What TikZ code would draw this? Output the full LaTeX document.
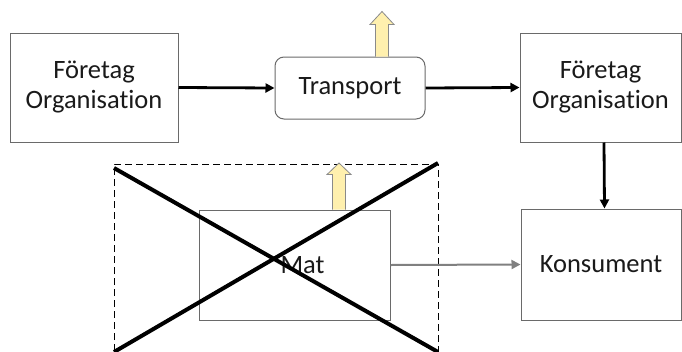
\documentclass[tikz,border=0pt]{standalone}
\usepackage{fontspec}
\setmainfont{Carlito}[Ligatures={NoCommon,NoRequired,NoContextual}]
\usetikzlibrary{arrows.meta,calc}
\definecolor{txt}{HTML}{1A1A1A}
\definecolor{boxline}{HTML}{6A6A6A}
\definecolor{yel}{HTML}{FFF0AE}
\definecolor{yelline}{HTML}{8A8A8A}
\definecolor{grayarrow}{HTML}{808080}
\tikzset{
  box/.style={draw=boxline, line width=1pt, fill=white, text=txt, align=center,
    inner sep=0pt, font=\fontsize{26.5}{30}\selectfont},
  flow/.style={line width=2.8pt, -{Triangle[length=9pt,width=9pt]}},
  grayflow/.style={draw=grayarrow, line width=2pt, -{Triangle[length=9pt,width=9pt,fill=grayarrow]}},
  cross/.style={line width=4pt, black},
  dashbox/.style={draw=black, line width=0.9pt, dash pattern=on 7pt off 4pt},
  yarrow/.style={fill=yel, draw=yelline, line width=0.8pt, line join=miter}
}
\begin{document}
\begin{tikzpicture}[x=1pt,y=-1pt]
\useasboundingbox (0,0) rectangle (682,351);
% nodes
\node[box, minimum width=168pt, minimum height=109pt] (lb) at (94,87.5) {Företag\\Organisation};
\node[box, rounded corners=9pt, minimum width=150pt, minimum height=62pt] (tr) at (350,88) {Transport};
\node[box, minimum width=161pt, minimum height=109pt] (rb) at (600.5,87.5) {Företag\\Organisation};
\node[box, minimum width=160pt, minimum height=111pt] (ko) at (601,264.5) {Konsument};
% dashed frame
\draw[dashbox] (114,362) -- (114,164) -- (438,164) -- (438,362);
\node[box, minimum width=191pt, minimum height=110pt] (mat) at (294.5,265) {\hspace*{16pt}Mat};
% connectors
\draw[flow] (lb.east) -- (tr.west);
\draw[flow] (tr.east) -- (rb.west);
\draw[flow] ([xshift=3.5pt]rb.south) -- ([xshift=3.5pt]ko.north);
\draw[grayflow] (mat.east) -- (ko.west);
% yellow arrows
\coordinate (ya) at (tr.north -| 382,0);
\draw[yarrow] ($(ya)+(-6.5,0)$) -- ++(0,-32) -- ++(-5.5,0) -- ++(12,-13) -- ++(12,13) -- ++(-5.5,0) -- ++(0,32);
\coordinate (yb) at (mat.north -| 339,0);
\draw[yarrow] ($(yb)+(-6.5,0)$) -- ++(0,-35) -- ++(-5.5,0) -- ++(12,-11.5) -- ++(12,11.5) -- ++(-5.5,0) -- ++(0,35);
% cross
\coordinate (c1) at (114,168);
\coordinate (c2) at (438,352);
\coordinate (c3) at (114,352);
\coordinate (c4) at (438,163);
\draw[cross] (c1) -- (c2);
\draw[cross] (c3) -- (c4);
\end{tikzpicture}
\end{document}
